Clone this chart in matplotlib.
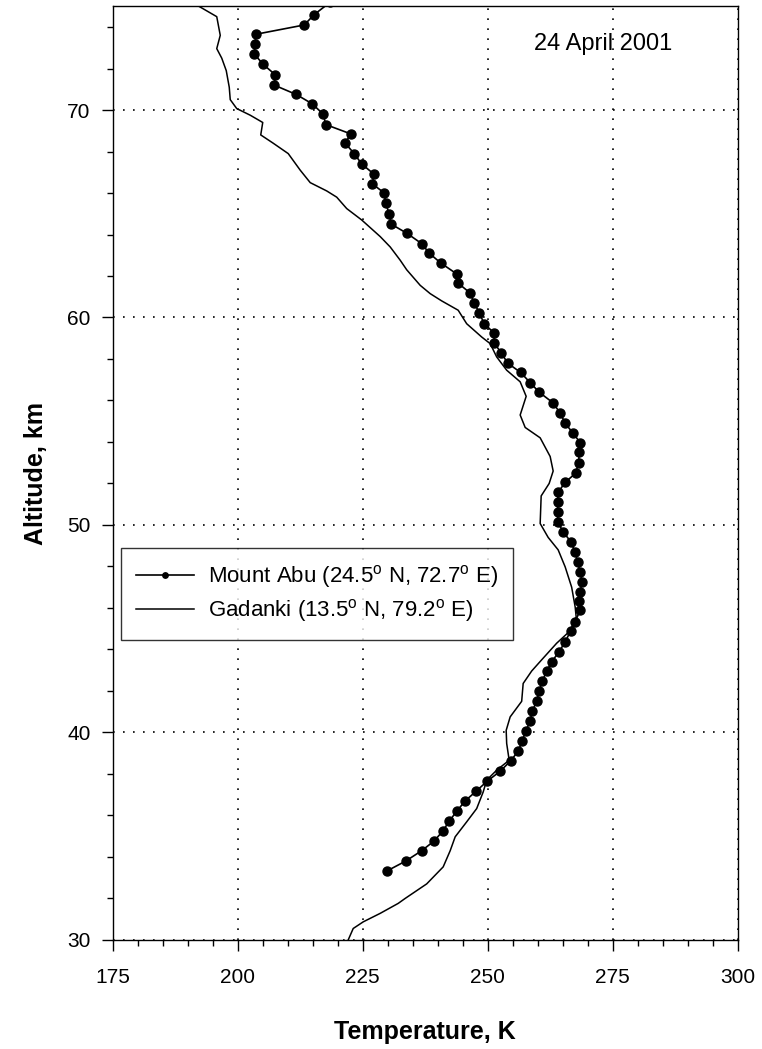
#!/usr/bin/env python3
# -*- coding: utf-8 -*-

import matplotlib
matplotlib.use("Agg")
import matplotlib.pyplot as plt
from matplotlib.ticker import MultipleLocator

plt.rcParams['font.family'] = ['Liberation Sans', 'DejaVu Sans']

# Mount Abu lidar profile (altitude km, temperature K)
abu_alt = [75.2, 74.6, 74.1, 73.65, 73.2, 72.7, 72.2, 71.7, 71.2, 70.75, 70.3,
           69.8, 69.3, 68.85, 68.4, 67.9, 67.4, 66.9, 66.45, 66.0, 65.5, 65.0,
           64.5, 64.05, 63.56, 63.1, 62.63, 62.1, 61.67, 61.18, 60.7, 60.24,
           59.7, 59.25, 58.77, 58.3, 57.8, 57.35, 56.86, 56.4, 55.9, 55.4,
           54.9, 54.45, 53.97, 53.5, 53.0, 52.5, 52.05, 51.58, 51.1, 50.63,
           50.15, 49.67, 49.2, 48.7, 48.2, 47.74, 47.26, 46.77, 46.34, 45.9,
           45.33, 44.9, 44.36, 43.9, 43.4, 42.95, 42.47, 41.99, 41.5, 41.02,
           40.54, 40.06, 39.58, 39.1, 38.63, 38.13, 37.65, 37.17, 36.7, 36.2,
           35.72, 35.24, 34.77, 34.3, 33.8, 33.33]
abu_temp = [218.5, 215.3, 213.3, 203.6, 203.5, 203.3, 205.1, 207.5, 207.3, 211.7,
            214.9, 217.1, 217.6, 222.6, 221.5, 223.3, 224.8, 227.3, 226.9, 229.3,
            229.6, 230.3, 230.7, 233.9, 236.8, 238.3, 240.6, 243.8, 244.0, 246.5,
            247.3, 248.3, 249.3, 251.3, 251.3, 252.7, 254.0, 256.6, 258.5, 260.3,
            263.0, 264.5, 265.5, 267.0, 268.5, 268.3, 268.2, 267.6, 265.5, 264.1,
            264.0, 264.0, 264.0, 265.1, 266.6, 267.5, 268.0, 268.5, 268.9, 268.5,
            268.3, 268.5, 267.5, 266.6, 265.5, 264.3, 262.8, 261.8, 260.9, 260.3,
            259.8, 258.9, 258.5, 257.6, 256.9, 256.1, 254.6, 252.5, 249.9, 247.7,
            245.5, 243.8, 242.3, 241.0, 239.3, 236.8, 233.6, 229.9]

# Gadanki profile
gad_alt = [75.2, 74.5, 73.6, 72.96, 72.5, 71.9, 71.1, 70.5, 70.07, 69.75, 69.4,
           68.8, 68.4, 67.9, 67.1, 66.5, 66.1, 65.8, 65.25, 64.7, 63.9, 63.4,
           62.76, 62.3, 61.55, 61.15, 60.8, 60.35, 59.7, 59.06, 58.74, 58.1,
           57.46, 56.9, 56.2, 55.3, 54.7, 54.2, 53.3, 52.6, 52.0, 51.4, 50.07,
           49.4, 48.8, 47.98, 47.0, 46.05, 45.57, 44.9, 44.3, 43.5, 42.96,
           42.36, 41.5, 40.75, 40.1, 39.47, 38.66, 38.18, 37.7, 37.13, 36.33,
           35.69, 34.97, 34.3, 33.52, 32.7, 32.0, 31.76, 31.28, 30.87, 30.55, 30.0]
gad_temp = [190.8, 195.8, 196.5, 195.8, 196.8, 197.7, 198.3, 198.5, 199.8, 202.5,
            205.0, 204.6, 207.1, 210.1, 212.5, 214.5, 217.8, 219.8, 221.8, 224.8,
            228.5, 230.5, 232.5, 233.8, 236.5, 238.5, 240.8, 244.1, 245.8, 248.8,
            250.5, 251.8, 253.8, 256.5, 257.7, 256.5, 257.5, 260.5, 262.5, 263.1,
            262.3, 260.7, 260.5, 262.1, 264.1, 265.5, 266.8, 267.5, 267.7, 266.5,
            263.8, 260.8, 258.8, 257.1, 256.8, 254.5, 253.7, 253.8, 254.3, 251.8,
            249.8, 249.1, 247.8, 245.8, 243.5, 242.5, 241.1, 237.8, 233.5, 232.1,
            228.5, 225.1, 223.1, 222.1]

fig = plt.figure(figsize=(7.62, 10.49), dpi=100)
ax = fig.add_axes([0.148, 0.104, 0.820, 0.890])

ax.plot(abu_temp, abu_alt, color='black', lw=1.2, marker='o', ms=6.5,
        label='Mount Abu (24.5$^{\\mathregular{o}}$ N, 72.7$^{\\mathregular{o}}$ E)')
ax.plot(gad_temp, gad_alt, color='black', lw=1.1,
        label='Gadanki (13.5$^{\\mathregular{o}}$ N, 79.2$^{\\mathregular{o}}$ E)')

ax.set_xlim(175, 300)
ax.set_ylim(30, 75)
ax.xaxis.set_major_locator(MultipleLocator(25))
ax.xaxis.set_minor_locator(MultipleLocator(5))
ax.yaxis.set_major_locator(MultipleLocator(10))
ax.yaxis.set_minor_locator(MultipleLocator(2))
ax.tick_params(which='major', direction='out', length=8, width=1, labelsize=15)
ax.tick_params(axis='x', which='major', pad=12)
ax.tick_params(axis='y', which='major', pad=8)
ax.tick_params(which='minor', direction='out', length=4, width=1)
ax.grid(True, which='major', color='black', linestyle=(0, (1, 5)), linewidth=1.2)

for s in ax.spines.values():
    s.set_linewidth(1)

ax.set_xlabel('Temperature, K', fontsize=18, fontweight='bold', labelpad=24)
ax.set_ylabel('Altitude, km', fontsize=18, fontweight='bold', labelpad=14)

ax.text(0.784, 0.96, '24 April 2001', transform=ax.transAxes,
        ha='center', va='center', fontsize=17)

leg = ax.legend(loc='upper left', bbox_to_anchor=(0.013, 0.42), borderaxespad=0,
                fontsize=16, markerscale=0.6, frameon=True, fancybox=False,
                handlelength=2.6, borderpad=0.7, labelspacing=0.3, handletextpad=0.6)
leg.get_frame().set_edgecolor('black')
leg.get_frame().set_linewidth(1)

fig.savefig('out.png', dpi=100)
